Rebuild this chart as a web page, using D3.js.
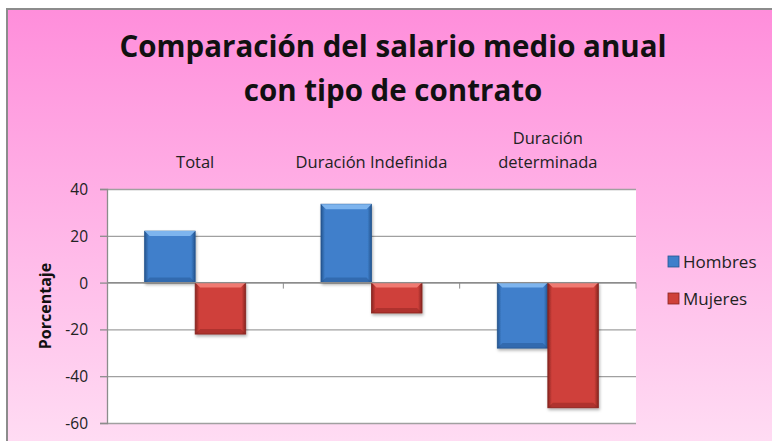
<!DOCTYPE html>
<html lang="es">
<head>
<meta charset="utf-8">
<title>Comparación del salario medio anual con tipo de contrato</title>
<script src="https://d3js.org/d3.v7.min.js"></script>
<style>
    body { margin: 0; background: #fff; }
    svg { display: block; }
    text { font-family: 'Open Sans', sans-serif; fill: #111; }
    .title { font-size: 29.5px; font-weight: 700; }
    .cat { font-size: 16.5px; fill: #222; }
    .tick text { font-size: 15.5px; fill: #222; }
    .ylabel { font-size: 16px; font-weight: 700; }
    .legend text { font-size: 17px; fill: #222; }
    .grid line { stroke: #a0a0a0; stroke-width: 1.3; }
</style>
</head>
<body>
<svg id="chart" width="772" height="441"></svg>
<script>
    // data
    const categories = ['Total', 'Duración Indefinida', 'Duración determinada'];
    const catLines = [['Total'], ['Duración Indefinida'], ['Duración', 'determinada']];
    const series = ['Hombres', 'Mujeres'];
    const hombres = [22, 33.5, -28];
    const mujeres = [-22, -13, -53.5];
    const yTicks = [40, 20, 0, -20, -40, -60];

    const colors = {
        Hombres: { light: '#7db4ee', mid: '#3f7fcb', dark: '#25558f' },
        Mujeres: { light: '#f07a72', mid: '#cf403a', dark: '#872420' }
    };

    const W = 772, H = 441;
    const plot = { left: 107, right: 636, top: 189, bottom: 423 };

    const svg = d3.select('#chart');
    const defs = svg.append('defs');

    // pink background
    const bg = defs.append('linearGradient').attr('id', 'bg')
        .attr('x1', 0).attr('y1', 0).attr('x2', 0).attr('y2', 1);
    bg.append('stop').attr('offset', '0%').attr('stop-color', '#ff8edb');
    bg.append('stop').attr('offset', '100%').attr('stop-color', '#ffdff4');

    svg.append('rect').attr('width', W).attr('height', H).attr('fill', '#fff');
    svg.append('rect')
        .attr('x', 7).attr('y', 9)
        .attr('width', W + 10).attr('height', H + 10)
        .attr('fill', 'url(#bg)')
        .attr('stroke', '#8c8c8c').attr('stroke-width', 2);

    // bar gradients
    series.forEach(s => {
        const c = colors[s];
        const g = defs.append('linearGradient').attr('id', 'grad-' + s)
            .attr('x1', 0).attr('y1', 0).attr('x2', 1).attr('y2', 0);
        g.append('stop').attr('offset', '0%').attr('stop-color', c.dark);
        g.append('stop').attr('offset', '8%').attr('stop-color', c.mid);
        g.append('stop').attr('offset', '92%').attr('stop-color', c.mid);
        g.append('stop').attr('offset', '100%').attr('stop-color', c.dark);
    });
    const shadow = defs.append('filter').attr('id', 'shadow')
        .attr('x', '-20%').attr('y', '-20%').attr('width', '140%').attr('height', '140%');
    shadow.append('feDropShadow').attr('dx', 1).attr('dy', 2)
        .attr('stdDeviation', 1.5).attr('flood-color', '#000').attr('flood-opacity', 0.3);

    // title
    svg.append('text').attr('class', 'title')
        .attr('x', 393).attr('y', 57).attr('text-anchor', 'middle')
        .text('Comparación del salario medio anual');
    svg.append('text').attr('class', 'title')
        .attr('x', 393).attr('y', 101).attr('text-anchor', 'middle')
        .text('con tipo de contrato');

    // scales
    const x0 = d3.scaleBand().domain(categories).range([plot.left, plot.right]);
    const x1 = d3.scaleBand().domain(series).range([0, x0.bandwidth()]).paddingOuter(0.745);
    const y = d3.scaleLinear().domain([-60, 40]).range([plot.bottom, plot.top]);

    // plot area
    svg.append('rect')
        .attr('x', plot.left).attr('y', plot.top)
        .attr('width', plot.right - plot.left).attr('height', plot.bottom - plot.top)
        .attr('fill', '#fff');

    // gridlines
    svg.append('g').attr('class', 'grid')
        .attr('transform', `translate(${plot.left},0)`)
        .call(d3.axisLeft(y).tickValues(yTicks).tickSize(-(plot.right - plot.left)).tickFormat(''))
        .call(g => g.select('.domain').remove());

    // y axis
    const yAxis = svg.append('g')
        .attr('transform', `translate(${plot.left},0)`)
        .call(d3.axisLeft(y).tickValues(yTicks).tickSize(7).tickPadding(12).tickFormat(d => String(d)));
    yAxis.selectAll('line, path').attr('stroke', '#8c8c8c').attr('stroke-width', 1.3);
    yAxis.selectAll('text').attr('dy', '0.35em');

    svg.append('text').attr('class', 'ylabel')
        .attr('transform', `translate(51,${(plot.top + plot.bottom) / 2}) rotate(-90)`)
        .attr('text-anchor', 'middle')
        .text('Porcentaje');

    // category ticks on the zero line
    const catTicks = svg.append('g')
        .attr('transform', `translate(0,${y(0)})`);
    catTicks.selectAll('.sep')
        .data(categories)
        .enter().append('line')
        .attr('x1', d => x0(d) + x0.bandwidth()).attr('x2', d => x0(d) + x0.bandwidth())
        .attr('y1', 0).attr('y2', 6)
        .attr('stroke', '#8c8c8c').attr('stroke-width', 1);

    // category labels above the plot
    const catG = svg.append('g');
    categories.forEach((c, i) => {
        const lines = catLines[i];
        const t = catG.append('text').attr('class', 'cat')
            .attr('x', x0(c) + x0.bandwidth() / 2)
            .attr('text-anchor', 'middle');
        lines.forEach((ln, j) => {
            t.append('tspan')
                .attr('x', x0(c) + x0.bandwidth() / 2)
                .attr('y', 168 - (lines.length - 1 - j) * 24)
                .text(ln);
        });
    });

    // bars
    const rows = categories.map((c, i) => ({ cat: c, Hombres: hombres[i], Mujeres: mujeres[i] }));
    const bevel = 5;
    rows.forEach(r => {
        series.forEach(s => {
            const v = r[s];
            const bx = x0(r.cat) + x1(s);
            const bw = x1.bandwidth();
            const top = y(Math.max(0, v));
            const bh = Math.abs(y(v) - y(0));
            const g = svg.append('g').attr('filter', 'url(#shadow)');
            g.append('rect')
                .attr('x', bx).attr('y', top).attr('width', bw).attr('height', bh)
                .attr('fill', 'url(#grad-' + s + ')')
                .attr('stroke', colors[s].dark).attr('stroke-width', 0.8);
            // lighter top bevel
            g.append('path')
                .attr('d', `M${bx},${top} L${bx + bw},${top} L${bx + bw - bevel},${top + bevel} L${bx + bevel},${top + bevel} Z`)
                .attr('fill', colors[s].light);
            // darker bottom bevel
            g.append('path')
                .attr('d', `M${bx},${top + bh} L${bx + bw},${top + bh} L${bx + bw - bevel},${top + bh - bevel} L${bx + bevel},${top + bh - bevel} Z`)
                .attr('fill', colors[s].dark).attr('opacity', 0.45);
        });
    });

    // zero line
    svg.append('line')
        .attr('x1', plot.left).attr('x2', plot.right)
        .attr('y1', y(0)).attr('y2', y(0))
        .attr('stroke', '#8c8c8c').attr('stroke-width', 1.3);

    // legend
    const legend = svg.append('g').attr('class', 'legend');
    series.forEach((s, i) => {
        const ly = 262 + i * 37;
        legend.append('rect')
            .attr('x', 668).attr('y', ly - 6).attr('width', 11).attr('height', 11)
            .attr('fill', colors[s].mid).attr('stroke', colors[s].dark).attr('stroke-width', 0.8);
        legend.append('text')
            .attr('x', 683).attr('y', ly).attr('dy', '0.35em')
            .text(s);
    });
</script>
</body>
</html>
